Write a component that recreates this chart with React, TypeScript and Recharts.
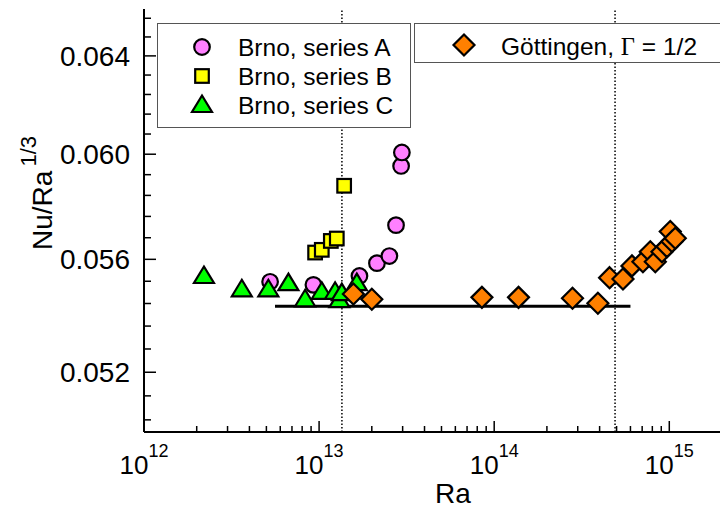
import {
  ScatterChart, Scatter, XAxis, YAxis, ReferenceLine,
} from 'recharts'

// ==================== Data ====================

// Brno, series A (circles)
const A_RA = [5.25e12, 9.28e12, 1.70e13, 2.14e13, 2.52e13, 2.75e13, 2.94e13, 2.97e13]
const A_NU = [0.05518, 0.05507, 0.05539, 0.05586, 0.05612, 0.05727, 0.05954, 0.06007]

// Brno, series B (squares)
const B_RA = [9.49e12, 1.036e13, 1.167e13, 1.262e13, 1.39e13]
const B_NU = [0.05625, 0.05635, 0.05668, 0.05677, 0.05877]

// Brno, series C (triangles)
const C_RA = [2.2e12, 3.62e12, 5.13e12, 6.68e12, 8.32e12, 1.036e13, 1.234e13, 1.306e13, 1.348e13, 1.642e13]
const C_NU = [0.05539, 0.05491, 0.05491, 0.05513, 0.05455, 0.05482, 0.05482, 0.05452, 0.05477, 0.05513]

// Göttingen, Γ = 1/2 (diamonds)
const G_RA = [
  1.57e13, 2.0e13, 8.51e13, 1.377e14, 2.80e14, 3.91e14, 4.56e14, 5.44e14, 6.12e14,
  7.07e14, 7.79e14, 8.32e14, 9.08e14, 9.70e14, 1.013e15, 1.036e15, 1.082e15,
]
const G_NU = [
  0.05474, 0.05455, 0.05462, 0.05462, 0.05459, 0.05441, 0.05533, 0.05528, 0.05576,
  0.05591, 0.05628, 0.05591, 0.05628, 0.05647, 0.05703, 0.05666, 0.05678,
]

// horizontal fit line and the two dotted Ra markers
const FIT_RA = [5.6e12, 6.0e14]
const FIT_NU = 0.0543
const MARK_RA = [1.35e13, 4.9e14]

// ==================== Axes ====================

const X_DOMAIN = [1e12, 2e15]
const Y_DOMAIN = [0.05, 0.066]

const X_MAJOR = [1e12, 1e13, 1e14, 1e15]
const X_EXP = ['12', '13', '14', '15']
const X_TICKS = [
  1e12, 2e12, 3e12, 4e12, 5e12, 6e12, 7e12, 8e12, 9e12,
  1e13, 2e13, 3e13, 4e13, 5e13, 6e13, 7e13, 8e13, 9e13,
  1e14, 2e14, 3e14, 4e14, 5e14, 6e14, 7e14, 8e14, 9e14,
  1e15,
]

const Y_MAJOR = [0.052, 0.056, 0.06, 0.064]
const Y_LABELS = ['0.052', '0.056', '0.060', '0.064']
const Y_TICKS = [
  0.0504, 0.0512, 0.052, 0.0528, 0.0536, 0.0544, 0.0552, 0.056, 0.0568, 0.0576,
  0.0584, 0.0592, 0.06, 0.0608, 0.0616, 0.0624, 0.0632, 0.064, 0.0648, 0.0656,
]

const zip = (xs: number[], ys: number[]) => xs.map((ra, i) => ({ ra, nu: ys[i] }))

const FONT = '"Liberation Sans", Arial, sans-serif'
const PINK = '#FF80FF'
const YELLOW = '#FFFF00'
const GREEN = '#00FF00'
const ORANGE = '#FF8000'

const isMajor = (list: number[], v: number) => list.findIndex(m => Math.abs(m - v) / m < 1e-6)

// ==================== Markers ====================

function Circle({ cx, cy }: any) {
  return <circle cx={cx} cy={cy} r={7.8} fill={PINK} stroke="#000" strokeWidth={2.2} />
}
function Square({ cx, cy }: any) {
  return <rect x={cx - 6.8} y={cy - 6.8} width={13.6} height={13.6} fill={YELLOW} stroke="#000" strokeWidth={2.2} />
}
function Triangle({ cx, cy }: any) {
  return (
    <polygon
      points={`${cx},${cy - 9.5} ${cx + 10},${cy + 7} ${cx - 10},${cy + 7}`}
      fill={GREEN} stroke="#000" strokeWidth={2.2} strokeLinejoin="miter"
    />
  )
}
function Diamond({ cx, cy }: any) {
  return (
    <polygon
      points={`${cx},${cy - 10.5} ${cx + 10.5},${cy} ${cx},${cy + 10.5} ${cx - 10.5},${cy}`}
      fill={ORANGE} stroke="#000" strokeWidth={2.2} strokeLinejoin="miter"
    />
  )
}

// ==================== Ticks (drawn inward) ====================

function XTick({ x, y, payload, side }: any) {
  const idx = isMajor(X_MAJOR, payload.value)
  const len = idx >= 0 ? 11 : 6
  const dir = side === 'bottom' ? -1 : 1
  return (
    <g>
      <line x1={x} x2={x} y1={y} y2={y + dir * len} stroke="#000" strokeWidth={1.5} />
      {side === 'bottom' && idx >= 0 && (
        <text x={x} y={y + 42} textAnchor="middle" fontSize={26} fontFamily={FONT} fill="#000">
          10<tspan dy={-17} fontSize={18}>{X_EXP[idx]}</tspan>
        </text>
      )}
    </g>
  )
}

function YTick({ x, y, payload, side }: any) {
  const idx = isMajor(Y_MAJOR, payload.value)
  const len = idx >= 0 ? 12 : 7
  const dir = side === 'left' ? 1 : -1
  return (
    <g>
      <line x1={x} x2={x + dir * len} y1={y} y2={y} stroke="#000" strokeWidth={1.5} />
      {side === 'left' && idx >= 0 && (
        <text x={x - 14} y={y + 10} textAnchor="end" fontSize={28} fontFamily={FONT} fill="#000">
          {Y_LABELS[idx]}
        </text>
      )}
    </g>
  )
}

// ==================== Legend overlay ====================

function LegendOverlay() {
  const rows = [
    { label: 'Brno, series A', Mark: Circle, y: 47 },
    { label: 'Brno, series B', Mark: Square, y: 76 },
    { label: 'Brno, series C', Mark: Triangle, y: 105 },
  ]
  return (
    <svg width={720} height={513} style={{ position: 'absolute', left: 0, top: 0, pointerEvents: 'none' }}>
      <rect x={157.5} y={23.5} width={253} height={104} fill="#fff" stroke="#555" strokeWidth={1} />
      {rows.map(r => (
        <g key={r.label}>
          <r.Mark cx={202} cy={r.y} />
          <text x={238} y={r.y + 9} fontSize={24.5} fontFamily={FONT} fill="#000">{r.label}</text>
        </g>
      ))}
      <rect x={414.5} y={23.5} width={320} height={39} fill="#fff" stroke="#555" strokeWidth={1} />
      <Diamond cx={464} cy={45} />
      <text x={501} y={55} fontSize={24.5} fontFamily={FONT} fill="#000">
        Göttingen, <tspan fontFamily='"Liberation Serif", serif'>Γ</tspan> = 1/2
      </text>
    </svg>
  )
}

// ==================== App ====================

export default function App() {
  return (
    <div style={{ position: 'absolute', left: 0, top: 0, width: 720, height: 513, overflow: 'hidden', background: '#fff', fontFamily: FONT }}>
      <ScatterChart width={730} height={513} margin={{ top: 9, right: 8, bottom: 0, left: 0 }}>
        <XAxis
          dataKey="ra" type="number" scale="log" domain={X_DOMAIN} allowDataOverflow
          ticks={X_TICKS} interval={0} tickSize={0} tickMargin={0} tickLine={false}
          tick={(p: any) => <XTick {...p} side="bottom" />}
          axisLine={{ stroke: '#000', strokeWidth: 2 }} height={81}
        />
        <XAxis
          xAxisId="top" orientation="top" dataKey="ra" type="number" scale="log" domain={X_DOMAIN} allowDataOverflow
          ticks={X_TICKS} interval={0} tickSize={0} tickMargin={0} tickLine={false}
          tick={(p: any) => <XTick {...p} side="top" />}
          axisLine={{ stroke: '#000', strokeWidth: 2 }} height={0}
        />
        <YAxis
          dataKey="nu" type="number" scale="log" domain={Y_DOMAIN} allowDataOverflow
          ticks={Y_TICKS} interval={0} tickSize={0} tickMargin={0} tickLine={false}
          tick={(p: any) => <YTick {...p} side="left" />}
          axisLine={{ stroke: '#000', strokeWidth: 2 }} width={144}
          label={
            <text transform="rotate(-90, 48, 217)" x={48} y={217} textAnchor="middle" fontSize={28} fontFamily={FONT} fill="#000">
              Nu/Ra<tspan dx={4} dy={-16} fontSize={22}>1/3</tspan>
            </text>
          }
        />
        <YAxis
          yAxisId="right" orientation="right" dataKey="nu" type="number" scale="log" domain={Y_DOMAIN} allowDataOverflow
          ticks={Y_TICKS} interval={0} tickSize={0} tickMargin={0} tickLine={false}
          tick={(p: any) => <YTick {...p} side="right" />}
          axisLine={{ stroke: '#000', strokeWidth: 2 }} width={0}
        />
        {MARK_RA.map(ra => (
          <ReferenceLine key={ra} x={ra} stroke="#000" strokeWidth={1.5} strokeDasharray="1.5 2" />
        ))}
        <ReferenceLine
          segment={[{ x: FIT_RA[0], y: FIT_NU }, { x: FIT_RA[1], y: FIT_NU }]}
          stroke="#000" strokeWidth={3}
        />
        <Scatter data={zip(A_RA, A_NU)} shape={Circle} isAnimationActive={false} />
        <Scatter data={zip(B_RA, B_NU)} shape={Square} isAnimationActive={false} />
        <Scatter data={zip(C_RA, C_NU)} shape={Triangle} isAnimationActive={false} />
        <Scatter data={zip(G_RA, G_NU)} shape={Diamond} isAnimationActive={false} />
      </ScatterChart>
      <svg width={720} height={513} style={{ position: 'absolute', left: 0, top: 0, pointerEvents: 'none' }}>
        <text x={453} y={503} textAnchor="middle" fontSize={28} fontFamily={FONT} fill="#000">Ra</text>
      </svg>
      <LegendOverlay />
    </div>
  )
}
